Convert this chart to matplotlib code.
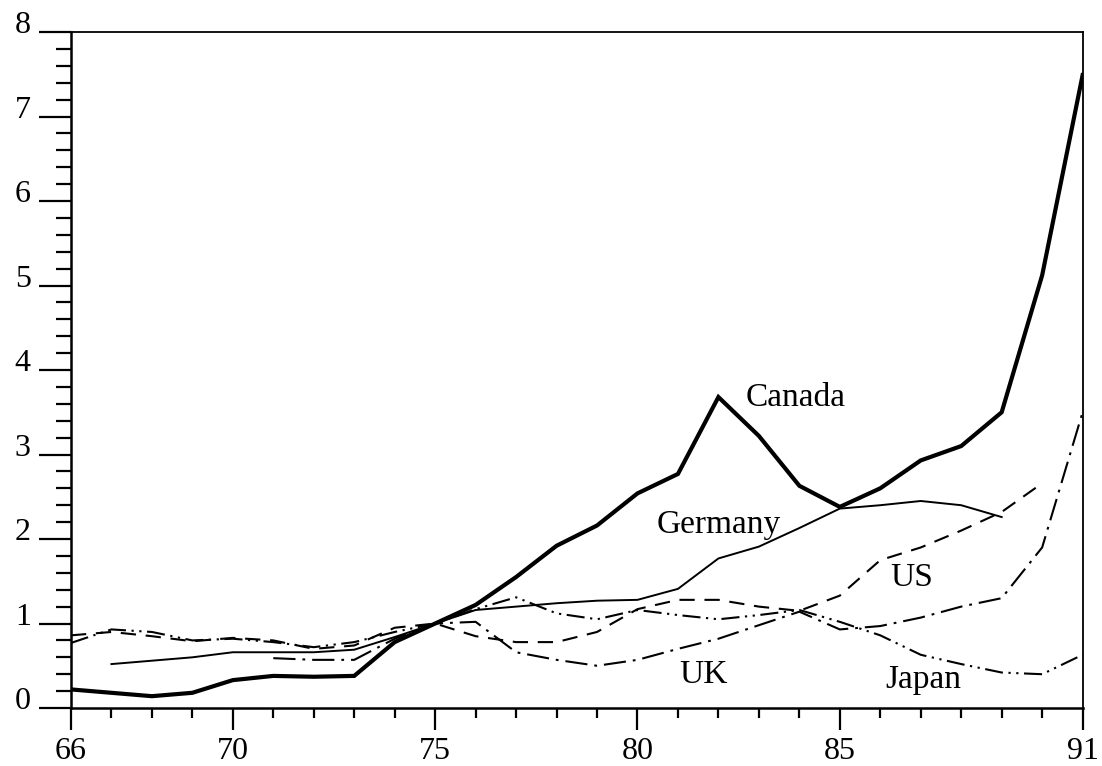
import matplotlib
matplotlib.use("Agg")
import matplotlib.pyplot as plt
from matplotlib.ticker import MultipleLocator, FixedLocator
from matplotlib.transforms import ScaledTranslation

plt.rcParams["font.family"] = ["Liberation Serif", "DejaVu Serif"]
plt.rcParams["lines.scale_dashes"] = False

# index values, 1975 = 1
years = list(range(66, 92))
canada = [0.22, 0.18, 0.14, 0.18, 0.33, 0.38, 0.37, 0.38, 0.78, 1.0,
          1.22, 1.55, 1.92, 2.16, 2.54, 2.77, 3.68, 3.22, 2.63, 2.38,
          2.6, 2.93, 3.1, 3.5, 5.12, 7.49]

germany_years = list(range(67, 90))
germany = [0.52, 0.56, 0.6, 0.66, 0.66, 0.66, 0.69, 0.84, 1.0,
           1.16, 1.2, 1.24, 1.27, 1.28, 1.41, 1.77, 1.91, 2.13, 2.36,
           2.4, 2.45, 2.4, 2.26]

us_years = list(range(66, 91))
us = [0.86, 0.9, 0.85, 0.79, 0.83, 0.8, 0.7, 0.74, 0.95, 1.0,
      0.85, 0.78, 0.78, 0.9, 1.17, 1.28, 1.28, 1.2, 1.15, 1.33,
      1.75, 1.9, 2.1, 2.32, 2.66]

japan = [0.77, 0.93, 0.9, 0.8, 0.82, 0.78, 0.72, 0.78, 0.9, 1.0,
         1.17, 1.31, 1.12, 1.05, 1.16, 1.1, 1.05, 1.1, 1.16, 1.02,
         0.86, 0.63, 0.52, 0.42, 0.4, 0.63]

uk_years = list(range(71, 92))
uk = [0.59, 0.57, 0.57, 0.82, 1.0, 1.02, 0.66, 0.57, 0.5, 0.57,
      0.7, 0.82, 0.98, 1.14, 0.93, 0.97, 1.07, 1.2, 1.3, 1.9, 3.5]

year_labels = [66, 70, 75, 80, 85, 91]

fig = plt.figure(figsize=(11.02, 7.66), dpi=100)
ax = fig.add_axes([0.0644, 0.0757, 0.918, 0.8825])

ax.plot(years, canada, color="black", lw=3.0, solid_joinstyle="miter")
ax.plot(germany_years, germany, color="black", lw=1.4)
ax.plot(us_years, us, color="black", lw=1.5, linestyle=(0, (11, 7)))
ax.plot(uk_years, uk, color="black", lw=1.5, linestyle=(0, (16, 5, 2, 5)))
ax.plot(years, japan, color="black", lw=1.5,
        linestyle=(0, (13, 4, 1.6, 4, 1.6, 4)))

label_style = dict(fontsize=24, color="black", ha="center", va="center")
ax.text(83.9, 3.67, "Canada", **label_style)
ax.text(82.0, 2.17, "Germany", **label_style)
ax.text(86.78, 1.54, "US", **label_style)
ax.text(81.64, 0.39, "UK", **label_style)
ax.text(87.07, 0.34, "Japan", **label_style)

ax.set_xlim(66, 91)
ax.set_ylim(0, 8)
ax.xaxis.set_major_locator(FixedLocator(year_labels))
ax.xaxis.set_minor_locator(MultipleLocator(1))
ax.yaxis.set_major_locator(MultipleLocator(1))
ax.yaxis.set_minor_locator(MultipleLocator(0.2))

ax.tick_params(axis="x", which="major", direction="out", length=16,
               width=1.6, labelsize=23, pad=5)
ax.tick_params(axis="x", which="minor", direction="out", length=7,
               width=1.6)
ax.tick_params(axis="y", which="major", direction="out", length=23,
               width=1.6, labelsize=23, pad=6)
ax.tick_params(axis="y", which="minor", direction="out", length=11,
               width=1.6)

for side in ["left", "bottom"]:
    ax.spines[side].set_linewidth(1.8)
for side in ["top", "right"]:
    ax.spines[side].set_linewidth(1.3)

# y labels sit a little above their ticks
shift = ScaledTranslation(0, 10 / 100, fig.dpi_scale_trans)
for lbl in ax.get_yticklabels():
    lbl.set_transform(lbl.get_transform() + shift)

fig.savefig("out.png", dpi=100)
